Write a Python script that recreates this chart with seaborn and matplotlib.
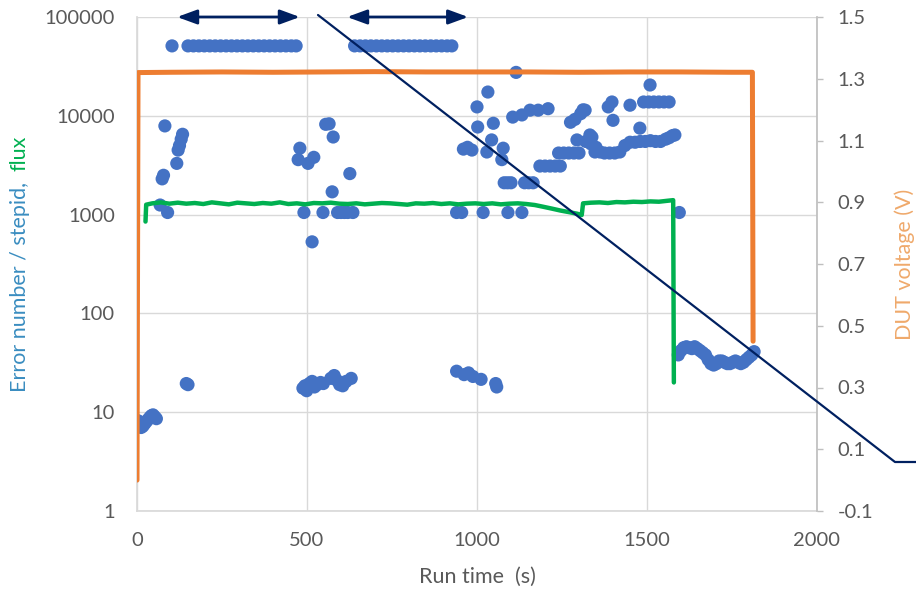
import matplotlib.pyplot as plt
import matplotlib.ticker as mticker
from matplotlib.lines import Line2D
import seaborn as sns

sns.set_theme(style="white")
plt.rcParams['font.family'] = ['Lato', 'DejaVu Sans']

# --- erros (pontos azuis) ---
err_t = [3, 8, 12, 17, 22, 27, 32, 37, 42, 47, 52, 57,
         145, 150,
         68, 74, 78, 82, 90, 117, 121, 125, 130, 134,
         103, 150, 166, 182, 198, 214, 230, 246, 262, 278, 294, 310, 326, 342,
         358, 374, 390, 406, 422, 438, 454, 468,
         640, 656, 672, 688, 704, 720, 736, 752, 768, 784, 800, 816, 832, 848,
         864, 880, 896, 912, 926,
         488, 494, 499, 507, 515, 522, 530, 540, 548, 570, 580, 588, 596, 605,
         615, 630,
         474, 479, 491, 503, 515, 520, 547, 555, 565, 574, 577, 590, 600, 610,
         620, 626, 635,
         940, 962, 975, 988, 1012, 1055, 1058,
         940, 955, 960, 972, 985, 1000, 1002, 1018, 1029, 1032, 1043, 1048, 1073,
         1077, 1080, 1090, 1091, 1100, 1105, 1115, 1132, 1132, 1140, 1152, 1156,
         1165, 1180, 1185, 1200, 1209, 1215, 1230, 1240, 1245, 1255, 1270, 1275,
         1285, 1288, 1294, 1300, 1305, 1312, 1318, 1332, 1338, 1347,
         1320, 1335, 1350, 1362, 1375, 1390, 1405, 1420, 1435, 1450, 1465, 1480,
         1495, 1510, 1525, 1540, 1555, 1565, 1575, 1582,
         1386, 1397, 1400, 1450, 1479, 1490, 1505, 1509, 1520, 1535, 1550, 1565,
         1595,
         1592, 1600, 1608, 1616, 1624, 1632, 1640, 1648, 1656, 1664, 1672, 1680,
         1688, 1696, 1704, 1712, 1720, 1728, 1736, 1744, 1752, 1760, 1768, 1776,
         1784, 1792, 1800, 1808, 1815]
err_n = [8.2, 7.5, 7.0, 7.2, 7.6, 8.0, 8.4, 8.8, 9.2, 9.4, 9.0, 8.6,
         19.5, 19.0,
         1250, 2300, 2500, 7900, 1050, 3300, 4500, 5000, 5800, 6500,
         51000, 51000, 51000, 51000, 51000, 51000, 51000, 51000, 51000, 51000,
         51000, 51000, 51000, 51000, 51000, 51000, 51000, 51000, 51000, 51000,
         51000, 51000,
         51000, 51000, 51000, 51000, 51000, 51000, 51000, 51000, 51000, 51000,
         51000, 51000, 51000, 51000, 51000, 51000, 51000, 51000, 51000,
         17.5, 18.5, 16.5, 19.5, 20.5, 18, 19, 20, 19.5, 22, 23.5, 21, 19, 18.5,
         20.5, 22,
         3600, 4700, 1050, 3300, 530, 3800, 1050, 8200, 8300, 1700, 6100, 1050,
         1050, 1050, 1050, 2600, 1050,
         26, 24, 25, 23, 21.5, 19.5, 18,
         1050, 1050, 4600, 4800, 4500, 12300, 7700, 1050, 4300, 17400, 5700, 8400,
         3600, 4700, 2100, 2100, 1050, 2100, 9700, 27500, 10200, 1050, 2100, 2100,
         11400, 2100, 11400, 3100, 3100, 11800, 3100, 3100, 4200, 3100, 4200, 4200,
         8600, 4200, 9200, 5700, 4200, 10500, 11500, 11400, 6400, 6100, 4300,
         5500, 5200, 4800, 4300, 4200, 4200, 4200, 4300, 5000, 5400, 5400, 5500,
         5500, 5600, 5500, 5500, 5800, 6000, 6300, 6400,
         12300, 13800, 9000, 12800, 7500, 13800, 13800, 20500, 13800, 13800, 13800,
         13800,
         1050,
         38, 42, 45, 46, 45, 44, 46, 44, 42, 40, 38, 34, 31, 30, 31, 33, 33, 32,
         31, 31, 32, 33, 32, 31, 32, 34, 36, 38, 41]

# --- fluxo (linha verde) ---
flux_t = [25, 27, 45, 70, 95, 120, 145, 170, 195, 220, 245, 270, 295, 320, 345,
          370, 395, 420, 445, 470, 495, 520, 545, 570, 595, 620, 645, 670, 695,
          720, 745, 770, 795, 820, 845, 870, 895, 920, 945, 970, 995, 1020, 1045,
          1070, 1095, 1120, 1145, 1170, 1195, 1220, 1245, 1270, 1295, 1308, 1312,
          1335, 1360, 1385, 1410, 1435, 1460, 1485, 1510, 1535, 1560, 1577, 1579]
flux_v = [850, 1260, 1300, 1330, 1290, 1320, 1290, 1310, 1280, 1330, 1300, 1270,
          1320, 1300, 1280, 1310, 1290, 1330, 1280, 1300, 1270, 1310, 1300, 1320,
          1290, 1280, 1300, 1270, 1290, 1310, 1300, 1280, 1260, 1300, 1290, 1310,
          1280, 1300, 1270, 1290, 1300, 1280, 1300, 1270, 1290, 1300, 1280, 1250,
          1200, 1150, 1100, 1060, 1020, 990, 1300, 1320, 1330, 1310, 1340, 1330,
          1350, 1340, 1360, 1350, 1380, 1400, 20]

# --- tensao DUT (linha laranja) ---
volt_t = [0, 3, 100, 250, 400, 550, 700, 850, 1000, 1150, 1300, 1450, 1600,
          1750, 1810, 1812]
volt_v = [0.0, 1.32, 1.321, 1.322, 1.321, 1.322, 1.323, 1.322, 1.322, 1.322,
          1.321, 1.322, 1.322, 1.321, 1.321, 0.45]

# intervalos marcados com setas
span_ini = [118, 618]
span_fim = [479, 974]

x_ticks = [0, 500, 1000, 1500, 2000]
y_ticks = [1, 10, 100, 1000, 10000, 100000]
v_ticks = [-0.1, 0.1, 0.3, 0.5, 0.7, 0.9, 1.1, 1.3, 1.5]

cinza = '#595959'
fig = plt.figure(figsize=(9.16, 5.98), dpi=100)
ax = fig.add_axes([137 / 916, 87 / 598, 680 / 916, 494 / 598])

ax.set_yscale('log')
sns.scatterplot(x=err_t, y=err_n, ax=ax, color='#4472C4', s=90,
                edgecolor='none', zorder=3)
sns.lineplot(x=flux_t, y=flux_v, ax=ax, color='#00B050', lw=3.2,
             sort=False, estimator=None, zorder=4)

ax.set_xlim(0, 2000)
ax.set_ylim(1, 100000)
ax.set_xticks(x_ticks)
ax.set_yticks(y_ticks)
ax.yaxis.set_minor_locator(mticker.NullLocator())
ax.yaxis.set_major_formatter(mticker.FuncFormatter(lambda v, p: f"{int(round(v))}"))
ax.grid(True, color='#D9D9D9', lw=1)
ax.set_axisbelow(True)
for s in ['top', 'right']:
    ax.spines[s].set_visible(False)
for s in ['left', 'bottom']:
    ax.spines[s].set_color('#D9D9D9')
ax.tick_params(axis='both', length=0, labelsize=14.5, labelcolor=cinza)
ax.tick_params(axis='y', pad=16)
ax.tick_params(axis='x', pad=15)
ax.set_xlabel("Run time  (s)", fontsize=15.5, color=cinza, labelpad=13)

ax2 = ax.twinx()
sns.lineplot(x=volt_t, y=volt_v, ax=ax2, color='#ED7D31', lw=3.6,
             sort=False, estimator=None)
ax2.set_ylim(-0.1, 1.5)
ax2.set_yticks(v_ticks)
ax2.yaxis.set_major_formatter(mticker.FormatStrFormatter('%.1f'))
for s in ['top', 'left', 'bottom']:
    ax2.spines[s].set_visible(False)
ax2.spines['right'].set_color('#BFBFBF')
ax2.tick_params(axis='y', length=4, width=1, color='#BFBFBF', direction='out',
                labelsize=14.5, labelcolor=cinza, pad=11)
ax2.set_ylabel("")

# setas no topo
for a, b in zip(span_ini, span_fim):
    ax.annotate('', xy=(b, 100000), xytext=(a, 100000),
                arrowprops=dict(arrowstyle='<|-|>,head_length=0.6,head_width=0.22',
                                color='#002060', lw=2, mutation_scale=20,
                                shrinkA=0, shrinkB=0),
                annotation_clip=False, zorder=6)

# linha diagonal
fig.add_artist(Line2D([318 / 916, 895 / 916, 1.0],
                      [1 - 15 / 598, 1 - 462 / 598, 1 - 462 / 598],
                      transform=fig.transFigure, color='#002060', lw=1.6))

# rotulo do eixo esquerdo em duas cores
fig.canvas.draw()
t1 = fig.text(20 / 916, 0.5, "Error number / stepid,  ", rotation=90,
              color='#3A8DC0', fontsize=15.5, ha='center', va='bottom')
t2 = fig.text(20 / 916, 0.5, "flux", rotation=90,
              color='#00B050', fontsize=15.5, ha='center', va='bottom')
fig.canvas.draw()
h1 = t1.get_window_extent().height / fig.bbox.height
h2 = t2.get_window_extent().height / fig.bbox.height
meio = 1 - 264 / 598
t1.set_y(meio - (h1 + h2) / 2)
t2.set_y(meio - (h1 + h2) / 2 + h1)

fig.text(905 / 916, meio, "DUT voltage (V)", rotation=90, color='#EFA96B',
         fontsize=15.5, ha='center', va='center')

fig.savefig("out.png", dpi=100)
